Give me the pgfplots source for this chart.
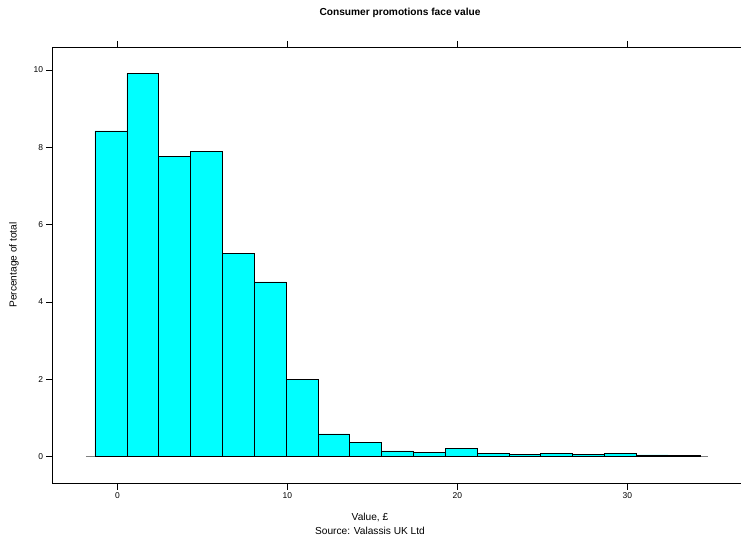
\documentclass[border=0pt]{standalone}
\usepackage{fontspec}
\setmainfont{Liberation Sans}
\usepackage{pgfplots}
\pgfplotsset{compat=1.18}
\definecolor{barcyan}{RGB}{0,255,255}
\begin{document}
\begin{tikzpicture}
\useasboundingbox (0,0) rectangle (741bp,538bp);
\begin{axis}[
  at={(52.5bp,54.5bp)}, anchor=south west,
  scale only axis, width=690bp, height=436.5bp,
  xmin=-3.82, xmax=36.77, ymin=-0.69, ymax=10.59,
  xtick={0,10,20,30}, ytick={0,2,4,6,8,10},
  minor tick num=0,
  tick align=outside, major tick length=6bp,
  xtick pos=both, ytick pos=left,
  xticklabel pos=lower, yticklabel pos=left,
  tick style={black, line width=0.6bp},
  axis line style={line width=0.6bp},
  ticklabel style={font=\fontsize{8.5}{10}\selectfont},
  /pgf/number format/assume math mode=true,
  clip=false,
]
\addplot[draw=gray, line width=0.7bp, forget plot] coordinates {(-1.85,0) (34.75,0)};
\addplot[ybar interval, fill=barcyan, draw=black, line width=0.6bp] coordinates {
(-1.32,8.42) (0.553,9.90) (2.426,7.77) (4.299,7.90) (6.172,5.25) (8.045,4.52)
(9.918,2.01) (11.791,0.59) (13.664,0.37) (15.537,0.15) (17.41,0.11) (19.283,0.22)
(21.156,0.09) (23.029,0.07) (24.902,0.09) (26.775,0.07) (28.648,0.09) (30.521,0.05)
(32.394,0.03) (34.267,0.03)};
\end{axis}
\node[font=\bfseries\fontsize{10.2}{12}\selectfont] at (400bp,525bp) {Consumer promotions face value};
\node[rotate=90, font=\fontsize{10.2}{12}\selectfont] at (14bp,273bp) {Percentage of total};
\node[font=\fontsize{10.2}{12}\selectfont] at (370bp,21bp) {Value, £};
\node[font=\fontsize{10.2}{12}\selectfont] at (370bp,7bp) {Source: Valassis UK Ltd};
\end{tikzpicture}
\end{document}
